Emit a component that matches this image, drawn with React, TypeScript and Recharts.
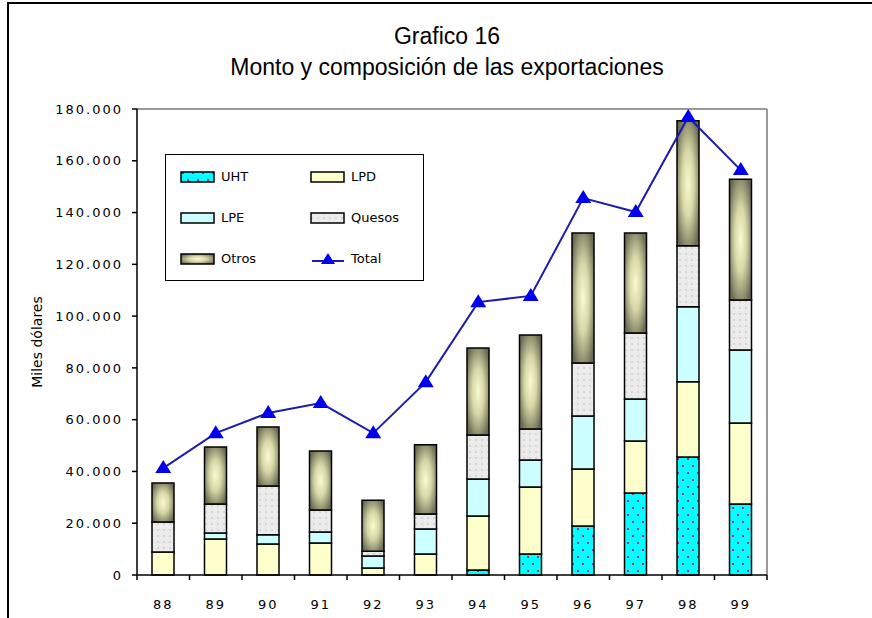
import { ComposedChart, Bar, Line, XAxis, YAxis, CartesianGrid } from 'recharts'

// miles de dólares
const years = ['88', '89', '90', '91', '92', '93', '94', '95', '96', '97', '98', '99']
const uht = [0, 0, 0, 0, 0, 0, 1900, 8100, 18900, 31700, 45600, 27400]
const lpd = [8900, 13900, 12000, 12400, 2700, 8100, 20900, 25900, 22000, 20100, 29000, 31300]
const lpe = [0, 2300, 3500, 4200, 4600, 9700, 14300, 10400, 20500, 16200, 29000, 28200]
const quesos = [11600, 11200, 18900, 8500, 1900, 5800, 17000, 12000, 20500, 25500, 23600, 19300]
const otros = [15000, 22000, 22800, 22800, 19700, 26700, 33600, 36300, 50200, 38600, 48300, 46700]
const total = [41300, 54800, 62600, 66400, 54800, 74500, 105400, 107800, 145600, 140200, 176900, 156400]
const yTicks = [0, 20000, 40000, 60000, 80000, 100000, 120000, 140000, 160000, 180000]

const data = years.map((year, i) => ({
  year,
  UHT: uht[i],
  LPD: lpd[i],
  LPE: lpe[i],
  Quesos: quesos[i],
  Otros: otros[i],
  Total: total[i],
}))

const fmt = (v: number) => String(v).replace(/\B(?=(\d{3})+(?!\d))/g, '.')

const W = 872
const H = 618
const M = { top: 109, right: 105, bottom: 8, left: 0 }
const Y_W = 137
const X_H = 35
const step = (W - M.right - Y_W) / years.length
const axisY = H - M.bottom - X_H

const Triangle = (props: any) => {
  const { cx, cy } = props
  if (cx == null || cy == null) return null
  return <polygon points={`${cx},${cy - 8} ${cx - 8},${cy + 5} ${cx + 8},${cy + 5}`} fill="#0000ee" />
}

const XTick = (props: any) => {
  const { x, payload, index } = props
  return (
    <g>
      <line x1={x - step / 2} x2={x - step / 2} y1={axisY} y2={axisY + 5} stroke="#000" strokeWidth={1.5} />
      {index === years.length - 1 && (
        <line x1={x + step / 2} x2={x + step / 2} y1={axisY} y2={axisY + 5} stroke="#000" strokeWidth={1.5} />
      )}
      <text x={x} y={axisY + 34} textAnchor="middle" fontSize={13} letterSpacing={2} fill="#000" fontFamily="DejaVu Sans">
        {payload.value}
      </text>
    </g>
  )
}

const legendItems = [
  { name: 'UHT', fill: 'url(#uhtDots)' },
  { name: 'LPD', fill: '#ffffcc' },
  { name: 'LPE', fill: '#ccffff' },
  { name: 'Quesos', fill: 'url(#quesosTex)' },
  { name: 'Otros', fill: 'url(#otrosGrad)' },
  { name: 'Total', fill: 'line' },
]

const LegendBox = () => (
  <div
    style={{
      position: 'absolute',
      left: 165,
      top: 154,
      width: 259,
      height: 127,
      border: '1.5px solid #000',
      background: '#fff',
      display: 'grid',
      gridTemplateColumns: '130px 127px',
      gridTemplateRows: 'repeat(3, 41px)',
      alignContent: 'center',
      alignItems: 'center',
      fontFamily: 'DejaVu Sans',
      fontSize: 13,
      color: '#000',
      boxSizing: 'border-box',
    }}
  >
    {legendItems.map((it) => (
      <div key={it.name} style={{ display: 'flex', alignItems: 'center', paddingLeft: 14 }}>
        <svg width={36} height={16} style={{ marginRight: 5 }}>
          {it.fill === 'line' ? (
            <>
              <line x1={2} x2={34} y1={10} y2={10} stroke="#1c1caa" strokeWidth={2} />
              <polygon points="18,2 11,13 25,13" fill="#0000ee" />
            </>
          ) : (
            <rect x={1} y={3} width={33} height={10} fill={it.fill} stroke="#000" strokeWidth={1.5} />
          )}
        </svg>
        <span>{it.name}</span>
      </div>
    ))}
  </div>
)

export default function App() {
  return (
    <div style={{ position: 'absolute', left: 0, top: 0, width: W, height: H, background: '#fff', overflow: 'hidden' }}>
      <div style={{ position: 'absolute', left: 7, top: 2, width: W, height: H, borderLeft: '2px solid #000', borderTop: '2px solid #000' }} />
      <div style={{ position: 'absolute', left: 0, width: 894, top: 23, textAlign: 'center', fontFamily: 'Liberation Sans', fontSize: 23, color: '#000' }}>
        Grafico 16
      </div>
      <div style={{ position: 'absolute', left: 0, width: 894, top: 54, textAlign: 'center', fontFamily: 'Liberation Sans', fontSize: 23, color: '#000' }}>
        Monto y composición de las exportaciones
      </div>
      <div style={{ position: 'absolute', left: 0, top: 0 }}>
        <ComposedChart width={W} height={H} data={data} margin={M} barSize={22}>
          <defs>
            <pattern id="uhtDots" width={10} height={14} patternUnits="userSpaceOnUse">
              <rect width={10} height={14} fill="#00ffff" />
              <rect x={2} y={3} width={2} height={2} fill="#b0307a" />
              <rect x={7} y={10} width={2} height={2} fill="#b0307a" />
            </pattern>
            <pattern id="quesosTex" width={6} height={6} patternUnits="userSpaceOnUse">
              <rect width={6} height={6} fill="#ebebeb" />
              <rect x={1} y={1} width={2} height={2} fill="#d6d6d6" />
              <rect x={4} y={4} width={1} height={1} fill="#f8f8f8" />
            </pattern>
            <radialGradient id="otrosGrad" cx="0.5" cy="0.5" r="0.6">
              <stop offset="0%" stopColor="#fbfbd2" />
              <stop offset="45%" stopColor="#d6d6a6" />
              <stop offset="100%" stopColor="#6c6c54" />
            </radialGradient>
          </defs>
          <CartesianGrid
            stroke="#999"
            strokeWidth={2}
            horizontalCoordinatesGenerator={({ offset }: any) => [offset.top]}
            verticalCoordinatesGenerator={({ offset }: any) => [offset.left + offset.width]}
          />
          <XAxis
            dataKey="year"
            height={X_H}
            tickLine={false}
            tick={<XTick />}
            axisLine={{ stroke: '#000', strokeWidth: 1.5 }}
            interval={0}
          />
          <YAxis
            domain={[0, 180000]}
            ticks={yTicks}
            width={Y_W}
            tickFormatter={fmt}
            tick={{ fontSize: 13, fill: '#000', fontFamily: 'DejaVu Sans', letterSpacing: 2 }}
            tickSize={5}
            tickMargin={9}
            tickLine={{ stroke: '#000', strokeWidth: 1.5 }}
            axisLine={{ stroke: '#000', strokeWidth: 1.5 }}
            interval={0}
            label={{ value: 'Miles dólares', angle: -90, position: 'insideLeft', offset: 37, style: { fontSize: 14, fill: '#000', fontFamily: 'DejaVu Sans', textAnchor: 'middle' } }}
          />
          <Bar dataKey="UHT" stackId="a" fill="url(#uhtDots)" stroke="#000" strokeWidth={1.5} isAnimationActive={false} />
          <Bar dataKey="LPD" stackId="a" fill="#ffffcc" stroke="#000" strokeWidth={1.5} isAnimationActive={false} />
          <Bar dataKey="LPE" stackId="a" fill="#ccffff" stroke="#000" strokeWidth={1.5} isAnimationActive={false} />
          <Bar dataKey="Quesos" stackId="a" fill="url(#quesosTex)" stroke="#000" strokeWidth={1.5} isAnimationActive={false} />
          <Bar dataKey="Otros" stackId="a" fill="url(#otrosGrad)" stroke="#000" strokeWidth={1.5} isAnimationActive={false} />
          <Line dataKey="Total" type="linear" stroke="#1c1caa" strokeWidth={2} dot={<Triangle />} activeDot={false} isAnimationActive={false} />
        </ComposedChart>
      </div>
      <LegendBox />
    </div>
  )
}
